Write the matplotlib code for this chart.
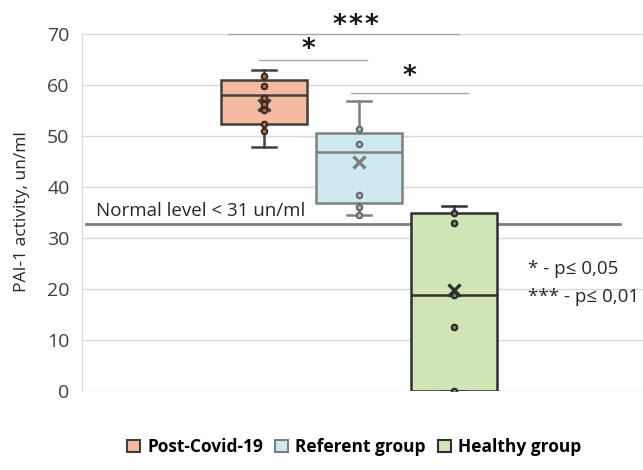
import matplotlib
matplotlib.use("Agg")
import matplotlib.pyplot as plt
from matplotlib.patches import Patch

plt.rcParams['font.family'] = ['Open Sans', 'DejaVu Sans']

groups = ["Post-Covid-19", "Referent group", "Healthy group"]
positions = [1, 2, 3]
whis_lo = [47.8, 34.5, 0.0]
q1 = [52.4, 36.8, 0.0]
median = [58.0, 46.8, 18.8]
q3 = [61.0, 50.6, 35.0]
whis_hi = [62.9, 56.9, 36.3]
means = [56.0, 45.0, 19.8]
points = [
    [61.8, 59.8, 57.5, 56.3, 55.1, 52.4, 51.0],
    [51.3, 48.4, 38.4, 36.0, 34.6],
    [35.0, 33.0, 18.8, 12.6, 0.0],
]
fills = ["#F4BBA0", "#CEE9F0", "#D0E4B5"]
edges = ["#404040", "#7F7F7F", "#303030"]
pt_fill = ["#C06A48", "#A8C4CC", "#6E8C50"]
pt_edge = ["#3A2A24", "#6A6A6A", "#2A2A2A"]
normal_level = 32.7
normal_text = "Normal level < 31 un/ml"
yticks = [0, 10, 20, 30, 40, 50, 60, 70]
sig_lines = [(0.62, 3.05, 70.0), (0.95, 2.08, 64.9), (1.92, 3.15, 58.5)]
legend_notes = ["* - p≤ 0,05", "*** - p≤ 0,01"]

fig = plt.figure(figsize=(6.43, 4.70), dpi=100)
ax = fig.add_axes([82/643, 1-391/470, 561/643, 357/470])

ax.set_ylim(0, 70)
ax.set_xlim(1 - 182/95, 1 + 379/95)
ax.set_yticks(yticks)
ax.yaxis.grid(True, color="#D9D9D9", lw=1.0)
ax.set_axisbelow(True)
for s in ["top", "right", "bottom"]:
    ax.spines[s].set_visible(False)
ax.spines["left"].set_color("#D9D9D9")
ax.tick_params(axis="y", length=0, pad=9, labelsize=14, labelcolor="#404040")
ax.set_xticks([])

ax.axhline(normal_level, xmin=4/561, xmax=538/561, color="#808080", lw=2.0, zorder=2)
ax.text(1 - 168/95, normal_level + 0.9, normal_text, fontsize=13.5, color="#262626",
        ha="left", va="bottom")

for i in range(3):
    stats = [dict(med=median[i], q1=q1[i], q3=q3[i], whislo=whis_lo[i],
                  whishi=whis_hi[i], mean=means[i], fliers=[])]
    ax.bxp(stats, positions=[positions[i]], widths=0.905, capwidths=0.26,
           patch_artist=True, showmeans=True, manage_ticks=False,
           boxprops=dict(facecolor=fills[i], edgecolor=edges[i], lw=1.8),
           medianprops=dict(color=edges[i], lw=1.8),
           whiskerprops=dict(color=edges[i], lw=1.8),
           capprops=dict(color=edges[i], lw=1.8),
           meanprops=dict(marker="x", markersize=8, markeredgecolor=edges[i],
                          markeredgewidth=2.4),
           zorder=3)
    ax.scatter([positions[i]] * len(points[i]), points[i], s=16,
               facecolor=pt_fill[i], edgecolor=pt_edge[i], linewidths=1.5, zorder=4)

for x0, x1, y in sig_lines:
    ax.plot([x0, x1], [y, y], color="#A6A6A6", lw=1.0, clip_on=False, zorder=2)

star_kw = dict(fontsize=19, ha="center", va="center", color="#1a1a1a",
               family="DejaVu Sans", weight="bold")
for sx in (339, 355, 371):
    fig.text(sx/643, 1-26/470, "*", **star_kw)
fig.text(308/643, 1-50/470, "*", **star_kw)
fig.text(409/643, 1-77/470, "*", **star_kw)

fig.text(528/643, 1-269/470, legend_notes[0], fontsize=13.5, ha="left", va="center", color="#262626")
fig.text(528/643, 1-297/470, legend_notes[1], fontsize=13.5, ha="left", va="center", color="#262626")

fig.text(22/643, 1-212/470, "PAI-1 activity, un/ml", rotation=90, fontsize=12.5,
         ha="center", va="center", color="#262626")

handles = [Patch(facecolor=fills[i], edgecolor=edges[i], lw=1.5, label=groups[i]) for i in range(3)]
fig.legend(handles=handles, loc="center", bbox_to_anchor=(354/643, 1-447/470), ncol=3,
           frameon=False, prop=dict(family="Open Sans", weight="bold", size=12.5), handlelength=0.75,
           handleheight=0.75, handletextpad=0.4, columnspacing=0.7)

fig.savefig("out.png", dpi=100)
